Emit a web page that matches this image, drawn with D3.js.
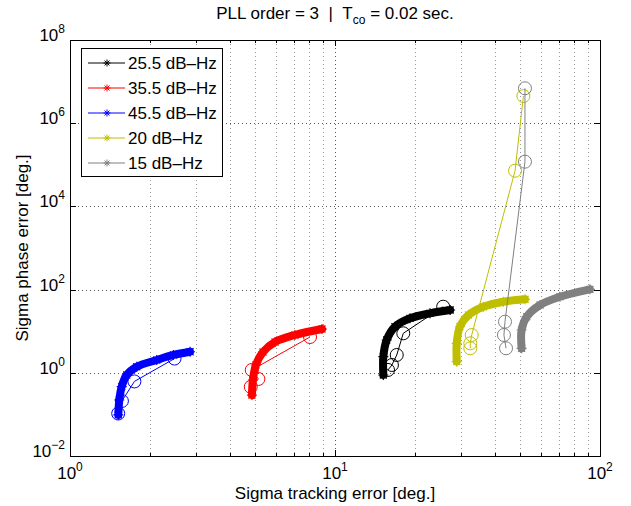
<!DOCTYPE html>
<html>
<head>
<meta charset="utf-8">
<script src="https://cdn.jsdelivr.net/npm/d3@7"></script>
<style>
  body { margin: 0; background: #fff; }
  svg { font-family: "Liberation Sans", Arial, sans-serif; }
</style>
</head>
<body>
<svg id="chart"></svg>
<script>
// series labels, in legend order
const seriesNames = ['25.5 dB–Hz', '35.5 dB–Hz', '45.5 dB–Hz', '20 dB–Hz', '15 dB–Hz'];

// dense sweep of each run: [sigma tracking error, sigma phase error]
const band25 = [[15.22, 0.885], [15.22, 2.44], [15.67, 6.14], [16.84, 12.8], [19.19, 20.4], [22.83, 26.9], [27.2, 32.3]];
const band35 = [[4.86, 0.292], [4.90, 0.671], [5.03, 1.54], [5.35, 3.16], [5.94, 5.5], [7.06, 8.11], [8.93, 11.3]];
const band45 = [[1.521, 0.097], [1.535, 0.222], [1.567, 0.463], [1.637, 0.885], [1.786, 1.40], [2.125, 2.03], [2.455, 2.68], [2.838, 3.21]];
const band20 = [[28.8, 1.85], [28.8, 5.12], [29.6, 12.8], [31.9, 24.5], [36.3, 38.8], [43.2, 51.2], [52.1, 58.5]];
const band15 = [[50.6, 3.88], [50.6, 10.7], [52.9, 22.3], [59.4, 42.6], [70.6, 67.5], [91.6, 101.6]];

// circled operating points, joined in this order
const circles25 = [[15.85, 1.17], [16.4, 1.54], [17.1, 2.68], [18.1, 8.9], [25.6, 38.8]];
const circles35 = [[4.81, 0.46], [5.14, 0.71], [4.85, 1.17], [8.05, 7.25]];
const circles45 = [[1.52, 0.105], [1.57, 0.21], [1.75, 0.62], [2.48, 2.2]];
const circles20 = [[32.4, 3.88], [32.4, 5.12], [32.8, 8.1], [47.8, 72100], [51.4, 4.5e6]];
const circles15 = [[44.2, 3.88], [43.4, 8.1], [43.8, 16.9], [52.1, 118800], [52.1, 6.9e6]];

const bands = [band25, band35, band45, band20, band15];
const circleSets = [circles25, circles35, circles45, circles20, circles15];
const colors = ['#000000', '#ff0000', '#0000ff', '#bfbf00', '#808080'];

// axis ticks
const xMajor = [1, 10, 100];
const xMinor = [2, 3, 4, 5, 6, 7, 8, 9, 20, 30, 40, 50, 60, 70, 80, 90];
const yMajor = [1e-2, 1e0, 1e2, 1e4, 1e6, 1e8];

const W = 631, H = 506;
const margin = { top: 40, right: 31, bottom: 50, left: 70 };
const innerW = W - margin.left - margin.right;
const innerH = H - margin.top - margin.bottom;

const svg = d3.select('#chart').attr('width', W).attr('height', H);

const x = d3.scaleLog().domain([1, 100]).range([0, innerW]);
const y = d3.scaleLog().domain([1e-2, 1e8]).range([innerH, 0]);

const g = svg.append('g').attr('transform', `translate(${margin.left},${margin.top})`);

// dotted grid
const gridStyle = sel => sel.attr('stroke', '#666').attr('stroke-width', 1)
  .attr('stroke-dasharray', '1,3').attr('fill', 'none');

g.append('g').selectAll('line')
  .data(xMajor.concat(xMinor).filter(d => d > 1 && d < 100))
  .join('line')
  .attr('x1', d => Math.round(x(d)) + 0.5).attr('x2', d => Math.round(x(d)) + 0.5)
  .attr('y1', 0).attr('y2', innerH)
  .call(gridStyle)
  .attr('stroke', d => xMajor.includes(d) ? '#555' : '#999');

g.append('g').selectAll('line')
  .data(yMajor.filter(d => d > 1e-2 && d < 1e8))
  .join('line')
  .attr('x1', 0).attr('x2', innerW)
  .attr('y1', d => Math.round(y(d)) + 0.5).attr('y2', d => Math.round(y(d)) + 0.5)
  .call(gridStyle)
  .attr('stroke', '#555');

const asterisk = r => {
  const k = r * 0.7;
  return `M${-r},0H${r}M0,${-r}V${r}M${-k},${-k}L${k},${k}M${-k},${k}L${k},${-k}`;
};

const band = d3.line()
  .x(d => x(d[0])).y(d => y(d[1]))
  .curve(d3.curveCatmullRom.alpha(0.5));

const plot = g.append('g');

bands.forEach((pts, i) => {
  const s = plot.append('g');

  // the sweep is many overlapping '*-' curves, drawn as one thick stroke
  s.append('path')
    .attr('d', band(pts))
    .attr('fill', 'none')
    .attr('stroke', colors[i])
    .attr('stroke-width', 8)
    .attr('stroke-linecap', 'round')
    .attr('stroke-linejoin', 'round');

  s.selectAll('path.star')
    .data(pts)
    .join('path')
    .attr('class', 'star')
    .attr('transform', d => `translate(${x(d[0])},${y(d[1])})`)
    .attr('d', asterisk(5))
    .attr('stroke', colors[i])
    .attr('stroke-width', 1.2);

  // circled points and the thin line through them
  s.append('path')
    .attr('d', d3.line().x(d => x(d[0])).y(d => y(d[1]))(circleSets[i]))
    .attr('fill', 'none')
    .attr('stroke', colors[i])
    .attr('stroke-width', 1);

  s.selectAll('circle')
    .data(circleSets[i])
    .join('circle')
    .attr('cx', d => x(d[0]))
    .attr('cy', d => y(d[1]))
    .attr('r', 6.5)
    .attr('fill', 'none')
    .attr('stroke', colors[i])
    .attr('stroke-width', 1);
});

// box and inward ticks on all four sides
g.append('rect')
  .attr('x', 0.5).attr('y', 0.5)
  .attr('width', innerW).attr('height', innerH)
  .attr('fill', 'none').attr('stroke', '#000').attr('stroke-width', 1);

const ticks = g.append('g').attr('stroke', '#000').attr('stroke-width', 1);
const xTicks = xMajor.map(d => ({ v: d, len: 6 })).concat(xMinor.map(d => ({ v: d, len: 3 })));
xTicks.forEach(t => {
  const px = Math.round(x(t.v)) + 0.5;
  ticks.append('line').attr('x1', px).attr('x2', px).attr('y1', innerH).attr('y2', innerH - t.len);
  ticks.append('line').attr('x1', px).attr('x2', px).attr('y1', 0).attr('y2', t.len);
});
yMajor.forEach(v => {
  const py = Math.round(y(v)) + 0.5;
  ticks.append('line').attr('x1', 0).attr('x2', 6).attr('y1', py).attr('y2', py);
  ticks.append('line').attr('x1', innerW).attr('x2', innerW - 6).attr('y1', py).attr('y2', py);
});

// tick labels as 10^n
const fontSize = 17;
const supSize = 12;
const powLabel = (sel, v) => {
  const e = Math.round(Math.log10(v));
  sel.append('tspan').text('10');
  sel.append('tspan').attr('font-size', supSize).attr('dy', -8).text(e < 0 ? '\u2212' + (-e) : e);
};

xMajor.forEach(v => {
  g.append('text')
    .attr('x', x(v)).attr('y', innerH + 23)
    .attr('text-anchor', 'middle')
    .attr('font-size', fontSize)
    .call(powLabel, v);
});
yMajor.forEach(v => {
  g.append('text')
    .attr('x', -5).attr('y', y(v) + 1)
    .attr('text-anchor', 'end')
    .attr('font-size', fontSize)
    .call(powLabel, v);
});

// axis titles
svg.append('text')
  .attr('x', margin.left + innerW / 2).attr('y', 499)
  .attr('text-anchor', 'middle').attr('font-size', fontSize)
  .text('Sigma tracking error [deg.]');

svg.append('text')
  .attr('transform', `translate(28,${margin.top + innerH / 2}) rotate(-90)`)
  .attr('text-anchor', 'middle').attr('font-size', fontSize)
  .text('Sigma phase error [deg.]');

const title = svg.append('text')
  .attr('x', margin.left + innerW / 2).attr('y', 19)
  .attr('text-anchor', 'middle').attr('font-size', fontSize);
title.append('tspan').text('PLL order = 3\u00a0\u00a0|\u00a0\u00a0T');
title.append('tspan').attr('font-size', supSize).attr('dy', 5).text('co');
title.append('tspan').attr('dy', -5).text('\u00a0= 0.02 sec.');

// legend
const legend = svg.append('g').attr('transform', 'translate(81,48)');
legend.append('rect')
  .attr('x', 0.5).attr('y', 0.5).attr('width', 141).attr('height', 128)
  .attr('fill', '#fff').attr('stroke', '#000').attr('stroke-width', 1);

const entry = legend.selectAll('g.entry')
  .data(seriesNames)
  .join('g')
  .attr('class', 'entry')
  .attr('transform', (d, i) => `translate(0,${15 + i * 25})`);

entry.append('line')
  .attr('x1', 7).attr('x2', 44).attr('y1', 0).attr('y2', 0)
  .attr('stroke', (d, i) => colors[i]).attr('stroke-width', 1);
entry.append('path')
  .attr('transform', 'translate(26,0)')
  .attr('d', asterisk(3.5))
  .attr('stroke', (d, i) => colors[i]).attr('stroke-width', 1);
entry.append('text')
  .attr('x', 47).attr('y', 6)
  .attr('font-size', fontSize)
  .text(d => d);
</script>
</body>
</html>
